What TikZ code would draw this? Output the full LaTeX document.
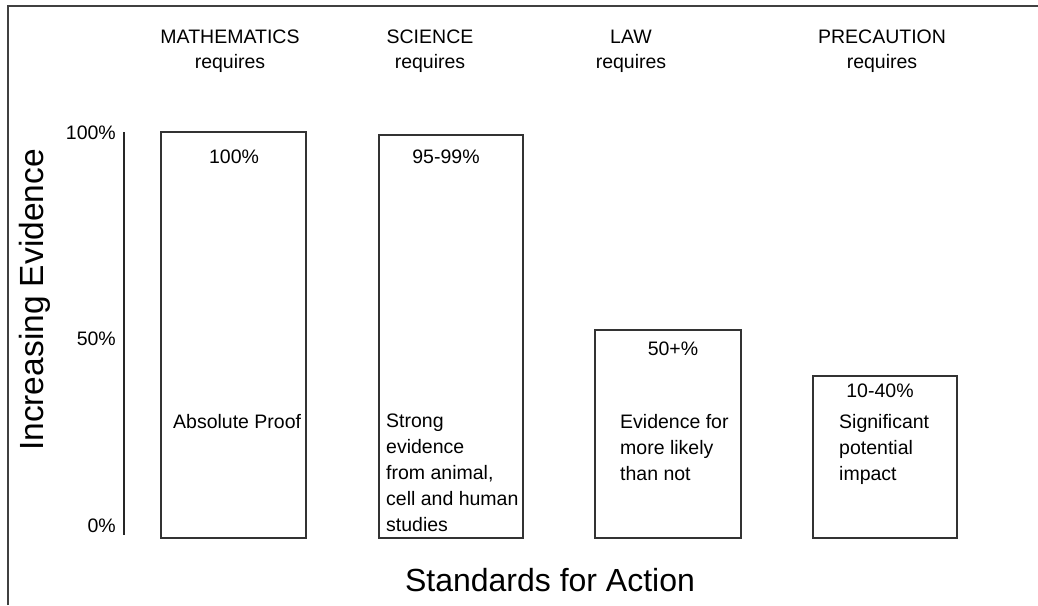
\documentclass[tikz,border=0pt]{standalone}
\usepackage{fontspec}
\setmainfont{Liberation Sans}
\usepackage{tikz}
\usetikzlibrary{positioning}

\tikzset{
  frame/.style={line width=1.8pt, black!75},
  bar/.style={draw=black!80, line width=1.5pt},
  lbl/.style={inner sep=0pt, font=\fontsize{19.5}{26}\selectfont},
  big/.style={inner sep=0pt, font=\fontsize{32}{38}\selectfont}
}

\begin{document}
\begin{tikzpicture}[x=1pt,y=-1pt]
  \useasboundingbox (0,0) rectangle (1038,605);
  % outer frame (cut off at right and bottom)
  \draw[frame] (8,605) -- (8,6) -- (1038,6);

  % evidence scale
  \coordinate (top) at (124,132);
  \coordinate (bot) at (124,535);
  \draw[line width=1.2pt, black!85] (top) -- (bot);
  \node[lbl, anchor=base east] (p100) at (116,139) {100\%};
  \node[lbl, anchor=base east] (p50) at (116,345) {50\%};
  \node[lbl, anchor=base east] (p0) at (116,532) {0\%};
  \node[big, font=\fontsize{33.5}{38}\selectfont, rotate=90, anchor=base] (yaxis) at (43,300) {Increasing Evidence};

  % headings
  \node[lbl, anchor=base] (math) at (230,43) {MATHEMATICS};
  \node[lbl, anchor=base] (mathreq) at (230,68) {requires};
  \node[lbl, anchor=base] (sci) at (430,43) {SCIENCE};
  \node[lbl, anchor=base] (scireq) at (430,68) {requires};
  \node[lbl, anchor=base] (law) at (631,43) {LAW};
  \node[lbl, anchor=base] (lawreq) at (631,68) {requires};
  \node[lbl, anchor=base] (prec) at (882,43) {PRECAUTION};
  \node[lbl, anchor=base] (precreq) at (882,68) {requires};

  % bars
  \draw[bar] (161,132) rectangle (306,538);
  \draw[bar] (379,135) rectangle (523,538);
  \draw[bar] (595,330) rectangle (741,538);
  \draw[bar] (813,376) rectangle (957,538);

  % percentages
  \node[lbl, anchor=base] (mathpc) at (234,163) {100\%};
  \node[lbl, anchor=base] (scipc) at (446,163) {95-99\%};
  \node[lbl, anchor=base] (lawpc) at (673,355) {50+\%};
  \node[lbl, anchor=base] (precpc) at (880,397) {10-40\%};

  % what each standard asks for
  \node[lbl, anchor=base west] (mathtxt) at (173,428) {Absolute Proof};
  \node[lbl, anchor=north west, align=left] (scitxt) at (386,414)
    {Strong\\evidence\\from animal,\\cell and human\\studies};
  \node[lbl, anchor=north west, align=left] (lawtxt) at (620,414)
    {Evidence for\\more likely\\than not};
  \node[lbl, anchor=north west, align=left] (prectxt) at (839,414)
    {Significant\\potential\\impact};

  \node[big, anchor=base] (xaxis) at (550,591) {Standards for Action};
\end{tikzpicture}
\end{document}
